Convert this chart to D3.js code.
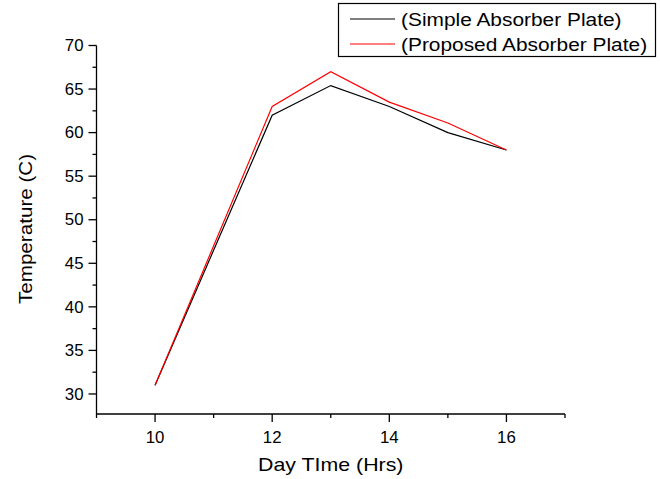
<!DOCTYPE html>
<html>
<head>
<meta charset="utf-8">
<script src="https://cdn.jsdelivr.net/npm/d3@7"></script>
<style>
  body { margin: 0; background: #fff; }
  text { font-family: Arial, "Liberation Sans", sans-serif; fill: #000; }
</style>
</head>
<body>
<svg id="chart" width="660" height="479"></svg>
<script>
// data
var hours = [10, 12, 13, 14, 15, 16];
var simplePlate = [31, 62, 65.4, 63, 60, 58];
var proposedPlate = [31, 63, 67, 63.5, 61.1, 58];
var seriesNames = ["(Simple Absorber Plate)", "(Proposed Absorber Plate)"];
var xTicks = [10, 12, 14, 16];
var xMinorTicks = [9, 11, 13, 15, 17];
var yTicks = [30, 35, 40, 45, 50, 55, 60, 65, 70];
var yMinorTicks = [32.5, 37.5, 42.5, 47.5, 52.5, 57.5, 62.5, 67.5];

var svg = d3.select("#chart");
var plotLeft = 96.5, plotRight = 565, plotTop = 45.5, plotBottom = 414;

var x = d3.scaleLinear().domain([9, 17]).range([plotLeft, plotRight]);
var y = d3.scaleLinear().domain([27.7, 70]).range([plotBottom, plotTop]);

// the text in the picture is a bit wider than plain Arial, stretch it
var stretched = function(sel, px, py, size, sx) {
  return sel.append("text")
    .attr("transform", "translate(" + px + "," + py + ") scale(" + sx + ",1)")
    .attr("font-size", size);
};

// y axis
var yAxis = svg.append("g").attr("transform", "translate(" + plotLeft + ",0)");
yAxis.append("line")
  .attr("x1", 0).attr("x2", 0)
  .attr("y1", y(70)).attr("y2", plotBottom)
  .attr("stroke", "#000").attr("stroke-width", 1.3);
yAxis.selectAll(".maj").data(yTicks).enter().append("line")
  .attr("x1", -8).attr("x2", 0)
  .attr("y1", function(d) { return y(d); })
  .attr("y2", function(d) { return y(d); })
  .attr("stroke", "#000").attr("stroke-width", 1.3);
yAxis.selectAll(".min").data(yMinorTicks).enter().append("line")
  .attr("x1", -4).attr("x2", 0)
  .attr("y1", function(d) { return y(d); })
  .attr("y2", function(d) { return y(d); })
  .attr("stroke", "#000").attr("stroke-width", 1.3);
yTicks.forEach(function(d) {
  stretched(yAxis, -13, y(d), 16, 1.05)
    .attr("dy", "0.36em")
    .attr("text-anchor", "end")
    .text(d);
});

// x axis
var xAxis = svg.append("g").attr("transform", "translate(0," + plotBottom + ")");
xAxis.append("line")
  .attr("x1", plotLeft).attr("x2", plotRight)
  .attr("y1", 0).attr("y2", 0)
  .attr("stroke", "#000").attr("stroke-width", 1.3);
xAxis.selectAll(".maj").data(xTicks).enter().append("line")
  .attr("x1", function(d) { return x(d); })
  .attr("x2", function(d) { return x(d); })
  .attr("y1", 0).attr("y2", 8)
  .attr("stroke", "#000").attr("stroke-width", 1.3);
xAxis.selectAll(".min").data(xMinorTicks).enter().append("line")
  .attr("x1", function(d) { return x(d); })
  .attr("x2", function(d) { return x(d); })
  .attr("y1", 0).attr("y2", 4)
  .attr("stroke", "#000").attr("stroke-width", 1.3);
xTicks.forEach(function(d) {
  stretched(xAxis, x(d), 29, 16, 1.05)
    .attr("text-anchor", "middle")
    .text(d);
});

// axis titles
stretched(svg, (plotLeft + plotRight) / 2, 471, 17.5, 1.22)
  .attr("text-anchor", "middle")
  .text("Day TIme (Hrs)");

svg.append("text")
  .attr("transform", "translate(32," + 229 + ") rotate(-90) scale(1.18,1)")
  .attr("text-anchor", "middle")
  .attr("font-size", 17.5)
  .text("Temperature (C)");

// lines
var line = d3.line()
  .x(function(d) { return x(d[0]); })
  .y(function(d) { return y(d[1]); });

var series = [
  { name: seriesNames[0], color: "#000", values: d3.zip(hours, simplePlate) },
  { name: seriesNames[1], color: "#f00", values: d3.zip(hours, proposedPlate) }
];

svg.selectAll(".series").data(series).enter().append("path")
  .attr("class", "series")
  .attr("fill", "none")
  .attr("stroke", function(d) { return d.color; })
  .attr("stroke-width", 1.2)
  .attr("d", function(d) { return line(d.values); });

// legend
var legend = svg.append("g");
legend.append("rect")
  .attr("x", 338.5).attr("y", 3.5)
  .attr("width", 317).attr("height", 53)
  .attr("fill", "#fff")
  .attr("stroke", "#000").attr("stroke-width", 1.2);

series.forEach(function(d, i) {
  var ly = 19 + i * 25;
  legend.append("line")
    .attr("x1", 350).attr("x2", 395)
    .attr("y1", ly).attr("y2", ly)
    .attr("stroke", d.color)
    .attr("stroke-width", 1.2);
  stretched(legend, 401, ly, 18.5, 1.13)
    .attr("dy", "0.36em")
    .text(d.name);
});
</script>
</body>
</html>
